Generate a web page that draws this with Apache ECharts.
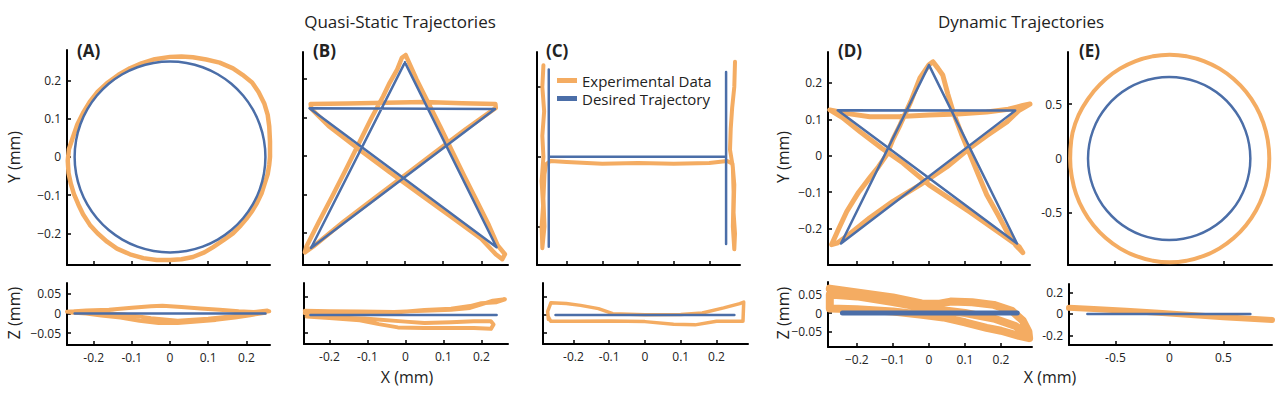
<!DOCTYPE html>
<html lang="en">
<head>
<meta charset="UTF-8">
<title>Quasi-Static and Dynamic Trajectories</title>
<script src="https://cdn.jsdelivr.net/npm/echarts@6.0.0/dist/echarts.min.js"></script>
<style>
  html, body { margin: 0; padding: 0; background: #fff; }
  #chart { width: 1280px; height: 396px; }
</style>
</head>
<body>
<div id="chart"></div>
<script>
// ---- data (mm) ----
var desiredCircleA = [[0.25,0],[0.2462,0.0434],[0.2349,0.0855],[0.2165,0.125],[0.1915,0.1607],[0.1607,0.1915],[0.125,0.2165],[0.0855,0.2349],[0.0434,0.2462],[0,0.25],[-0.0434,0.2462],[-0.0855,0.2349],[-0.125,0.2165],[-0.1607,0.1915],[-0.1915,0.1607],[-0.2165,0.125],[-0.2349,0.0855],[-0.2462,0.0434],[-0.25,0],[-0.2462,-0.0434],[-0.2349,-0.0855],[-0.2165,-0.125],[-0.1915,-0.1607],[-0.1607,-0.1915],[-0.125,-0.2165],[-0.0855,-0.2349],[-0.0434,-0.2462],[0,-0.25],[0.0434,-0.2462],[0.0855,-0.2349],[0.125,-0.2165],[0.1607,-0.1915],[0.1915,-0.1607],[0.2165,-0.125],[0.2349,-0.0855],[0.2462,-0.0434],[0.25,0]];
var expCircleA = [[0.262,0.0],[0.262,0.04],[0.26,0.08],[0.256,0.11],[0.247,0.14],[0.232,0.17],[0.215,0.195],[0.19,0.215],[0.165,0.232],[0.13,0.247],[0.095,0.255],[0.06,0.261],[0.03,0.263],[0.0,0.262],[-0.04,0.256],[-0.075,0.245],[-0.105,0.232],[-0.135,0.215],[-0.163,0.195],[-0.19,0.17],[-0.21,0.145],[-0.228,0.115],[-0.243,0.085],[-0.255,0.05],[-0.265,0.02],[-0.268,-0.01],[-0.266,-0.042],[-0.26,-0.07],[-0.252,-0.097],[-0.24,-0.125],[-0.228,-0.15],[-0.21,-0.178],[-0.19,-0.2],[-0.165,-0.222],[-0.139,-0.24],[-0.105,-0.255],[-0.07,-0.265],[-0.035,-0.27],[0.0,-0.27],[0.03,-0.268],[0.06,-0.262],[0.09,-0.25],[0.113,-0.236],[0.14,-0.218],[0.165,-0.2],[0.185,-0.18],[0.2,-0.162],[0.215,-0.142],[0.228,-0.12],[0.24,-0.095],[0.248,-0.07],[0.256,-0.045],[0.26,-0.02],[0.262,0.0]];
var desiredZA = [[-0.25,0],[0.25,0]];
var expZA = [[-0.27,0.005],[-0.22,0.008],[-0.16,0.01],[-0.1,0.015],[-0.05,0.019],[-0.02,0.02],[0.03,0.017],[0.08,0.013],[0.13,0.01],[0.18,0.006],[0.22,0.004],[0.255,0.008],[0.25,0.002],[0.21,-0.004],[0.17,-0.01],[0.12,-0.016],[0.07,-0.02],[0.02,-0.024],[-0.03,-0.024],[-0.08,-0.018],[-0.13,-0.01],[-0.18,-0.005],[-0.22,0.0],[-0.26,0.003],[-0.25,0.006],[-0.2,0.003],[-0.12,-0.002],[-0.05,-0.012],[0.02,-0.018],[0.1,-0.013],[0.17,-0.006],[0.22,0.0],[0.26,0.006]];

var desiredStarB = [[0,0.243],[0.24,-0.237],[-0.25,0.124],[0.236,0.122],[-0.246,-0.239],[0,0.243]];
var expStarB = [[0.002,0.262],[0.03,0.2],[0.06,0.14],[0.093,0.075],[0.125,0.01],[0.157,-0.055],[0.19,-0.12],[0.22,-0.18],[0.243,-0.232],[0.262,-0.255],[0.255,-0.268],[0.238,-0.255],[0.2,-0.215],[0.12,-0.157],[0.04,-0.1],[-0.04,-0.042],[-0.12,0.017],[-0.2,0.078],[-0.245,0.122],[-0.247,0.135],[-0.15,0.136],[-0.05,0.138],[0.05,0.14],[0.15,0.137],[0.237,0.135],[0.238,0.125],[0.16,0.07],[0.08,0.01],[0.0,-0.05],[-0.08,-0.11],[-0.16,-0.17],[-0.24,-0.235],[-0.262,-0.25],[-0.258,-0.235],[-0.225,-0.17],[-0.188,-0.1],[-0.152,-0.03],[-0.117,0.04],[-0.087,0.1],[-0.057,0.155],[-0.04,0.19],[-0.02,0.225],[-0.008,0.255],[0.002,0.262]];
var desiredZB = [[-0.25,0],[0.24,0]];
var expZB = [[-0.265,0.012],[-0.2,0.011],[-0.12,0.01],[-0.03,0.009],[0.05,0.012],[0.12,0.015],[0.17,0.02],[0.2,0.03],[0.23,0.04],[0.262,0.044],[0.24,0.036],[0.2,0.033],[0.17,0.025],[0.12,0.018],[0.05,0.014],[-0.05,0.005],[-0.15,0.002],[-0.24,0.0],[-0.26,-0.004],[-0.2,-0.008],[-0.12,-0.014],[-0.07,-0.025],[-0.02,-0.034],[0.05,-0.036],[0.12,-0.036],[0.18,-0.036],[0.225,-0.038],[0.232,-0.026],[0.225,-0.017],[0.18,-0.017],[0.12,-0.02],[0.05,-0.022],[0.0,-0.018],[-0.1,-0.01],[-0.2,-0.002],[-0.265,0.005]];

var desiredLinesC = [[-0.25,0.25],[-0.25,-0.258],[-0.25,0],[0.247,0],[0.247,0.243],[0.247,-0.25]];
var expLinesC = [[-0.265,0.262],[-0.268,0.2],[-0.263,0.13],[-0.268,0.06],[-0.265,0.0],[-0.27,-0.07],[-0.266,-0.14],[-0.27,-0.2],[-0.268,-0.262],[-0.262,-0.2],[-0.265,-0.12],[-0.262,-0.05],[-0.258,-0.022],[-0.245,-0.012],[-0.2,-0.015],[-0.1,-0.02],[0.0,-0.018],[0.1,-0.02],[0.2,-0.018],[0.25,-0.012],[0.265,-0.02],[0.27,-0.08],[0.268,-0.16],[0.272,-0.22],[0.27,-0.265],[0.266,-0.2],[0.268,-0.1],[0.266,-0.03],[0.258,0.02],[0.26,0.08],[0.264,0.14],[0.27,0.2],[0.272,0.272]];
var desiredZC = [[-0.25,0],[0.25,0]];
var expZC = [[-0.27,-0.012],[-0.272,0.01],[-0.263,0.034],[-0.22,0.032],[-0.18,0.027],[-0.13,0.018],[-0.09,0.004],[0.0,0.001],[0.1,0.002],[0.16,0.006],[0.22,0.02],[0.265,0.032],[0.276,0.036],[0.274,-0.017],[0.2,-0.017],[0.14,-0.027],[0.08,-0.025],[0.0,-0.018],[-0.1,-0.016],[-0.2,-0.017],[-0.263,-0.017],[-0.27,-0.005]];

var desiredStarD = [[0,0.249],[0.244,-0.241],[-0.253,0.125],[0.239,0.124],[-0.244,-0.241],[0,0.249]];
var expStarD = [[0.011,0.258],[0.025,0.24],[0.038,0.222],[0.052,0.17],[0.067,0.12],[0.09,0.06],[0.114,0.003],[0.138,-0.055],[0.16,-0.107],[0.19,-0.16],[0.216,-0.208],[0.24,-0.245],[0.26,-0.266],[0.25,-0.25],[0.2,-0.215],[0.114,-0.155],[0.0,-0.08],[-0.072,-0.02],[-0.13,0.02],[-0.19,0.065],[-0.24,0.105],[-0.275,0.126],[-0.22,0.115],[-0.164,0.107],[-0.08,0.108],[0.0,0.112],[0.08,0.115],[0.16,0.12],[0.22,0.128],[0.26,0.138],[0.28,0.142],[0.25,0.125],[0.216,0.093],[0.16,0.055],[0.114,0.022],[0.05,-0.03],[-0.025,-0.08],[-0.1,-0.125],[-0.164,-0.17],[-0.22,-0.215],[-0.255,-0.24],[-0.27,-0.244],[-0.25,-0.2],[-0.228,-0.153],[-0.195,-0.1],[-0.164,-0.06],[-0.14,-0.03],[-0.117,0.003],[-0.1,0.045],[-0.08,0.085],[-0.05,0.15],[-0.025,0.214],[0.0,0.25],[0.011,0.258]];
var desiredZD = [[-0.24,0],[0.245,0]];
var expZD = [[-0.275,0.066],[-0.2,0.056],[-0.1,0.042],[-0.02,0.026],[0.03,0.025],[0.06,0.031],[0.12,0.029],[0.18,0.022],[0.23,0.006],[0.26,-0.02],[0.276,-0.05],[0.278,-0.068],[0.25,-0.062],[0.2,-0.048],[0.16,-0.04],[0.1,-0.025],[0.04,-0.012],[-0.025,-0.004],[-0.1,0.004],[-0.2,0.01],[-0.275,0.012],[-0.275,0.05],[-0.2,0.045],[-0.1,0.03],[0.0,0.012],[0.1,0.0],[0.18,-0.015],[0.24,-0.035],[0.275,-0.058]];

var desiredCircleE = [[0.75,0],[0.7386,0.1302],[0.7048,0.2565],[0.6495,0.375],[0.5745,0.4821],[0.4821,0.5745],[0.375,0.6495],[0.2565,0.7048],[0.1302,0.7386],[0,0.75],[-0.1302,0.7386],[-0.2565,0.7048],[-0.375,0.6495],[-0.4821,0.5745],[-0.5745,0.4821],[-0.6495,0.375],[-0.7048,0.2565],[-0.7386,0.1302],[-0.75,0],[-0.7386,-0.1302],[-0.7048,-0.2565],[-0.6495,-0.375],[-0.5745,-0.4821],[-0.4821,-0.5745],[-0.375,-0.6495],[-0.2565,-0.7048],[-0.1302,-0.7386],[0,-0.75],[0.1302,-0.7386],[0.2565,-0.7048],[0.375,-0.6495],[0.4821,-0.5745],[0.5745,-0.4821],[0.6495,-0.375],[0.7048,-0.2565],[0.7386,-0.1302],[0.75,0]];
var expCircleE = [[0.925,0],[0.911,0.166],[0.87,0.327],[0.802,0.478],[0.71,0.614],[0.596,0.732],[0.465,0.827],[0.32,0.897],[0.165,0.94],[0.005,0.955],[-0.155,0.94],[-0.31,0.897],[-0.455,0.827],[-0.586,0.732],[-0.7,0.614],[-0.795,0.478],[-0.865,0.33],[-0.905,0.168],[-0.915,0],[-0.9,-0.166],[-0.86,-0.327],[-0.792,-0.478],[-0.7,-0.614],[-0.586,-0.732],[-0.455,-0.827],[-0.31,-0.897],[-0.155,-0.94],[0.005,-0.955],[0.165,-0.94],[0.32,-0.897],[0.465,-0.827],[0.596,-0.732],[0.71,-0.614],[0.802,-0.478],[0.87,-0.327],[0.911,-0.166],[0.925,0]];
var desiredZE = [[-0.76,0],[0.75,0]];
var expZE = [[-0.93,0.057],[-0.7,0.046],[-0.4,0.03],[-0.1,0.012],[0.2,-0.01],[0.5,-0.03],[0.75,-0.045],[0.95,-0.056]];

// ---- ticks and tick labels ----
var ticksXY = [-0.2, -0.1, 0, 0.1, 0.2];
var labelsMinusXY = ['\u22120.2', '\u22120.1', '0', '0.1', '0.2'];
var labelsHyphenXY = ['-0.2', '-0.1', '0', '0.1', '0.2'];
var ticksZ = [-0.05, 0, 0.05];
var labelsZ = ['\u22120.05', '0', '0.05'];
var ticksC = [-0.2, 0, 0.2];
var ticksE = [-0.5, 0, 0.5];
var labelsE = ['-0.5', '0', '0.5'];
var ticksZE = [-0.2, 0, 0.2];
var labelsZE = ['-0.2', '0', '0.2'];

var ORANGE = '#F4AC62';
var BLUE = '#4B6EA8';
var FONT = '"Open Sans", "Noto Sans", sans-serif';

var grids = [
  { left: 67, top: 50, width: 203, height: 215 },
  { left: 303, top: 52, width: 205, height: 213 },
  { left: 537, top: 52, width: 203, height: 213 },
  { left: 828, top: 52, width: 202, height: 213 },
  { left: 1068, top: 52, width: 204, height: 213 },
  { left: 67, top: 283, width: 203, height: 62 },
  { left: 304, top: 283, width: 204, height: 61 },
  { left: 543, top: 283, width: 205, height: 61 },
  { left: 828, top: 282, width: 204, height: 65 },
  { left: 1069, top: 284, width: 203, height: 61 }
];

function axis(grid, min, max, ticks, labels) {
  return {
    type: 'value', gridIndex: grid, min: min, max: max,
    axisLine: { show: true, onZero: false, lineStyle: { color: '#000', width: 2 } },
    axisTick: { show: true, inside: true, length: 4, customValues: ticks, lineStyle: { color: '#000', width: 1.5 } },
    axisLabel: {
      show: !!labels, customValues: ticks, margin: 6, fontSize: 12, color: '#222', fontFamily: FONT,
      formatter: function (v) {
        if (!labels) return '';
        for (var i = 0; i < ticks.length; i++) {
          if (Math.abs(ticks[i] - v) < 1e-9) return labels[i];
        }
        return '';
      }
    },
    splitLine: { show: false }
  };
}

var xAxes = [
  axis(0, -0.27, 0.262, ticksXY, null),
  axis(1, -0.267, 0.27, ticksXY, null),
  axis(2, -0.283, 0.286, ticksXY, null),
  axis(3, -0.28, 0.28, ticksXY, null),
  axis(4, -0.935, 0.95, ticksE, null),
  axis(5, -0.27, 0.262, ticksXY, labelsHyphenXY),
  axis(6, -0.267, 0.27, ticksXY, labelsHyphenXY),
  axis(7, -0.285, 0.288, ticksXY, labelsHyphenXY),
  axis(8, -0.28, 0.286, ticksXY, labelsMinusXY),
  axis(9, -0.93, 0.95, ticksE, labelsE)
];
var yAxes = [
  axis(0, -0.283, 0.28, ticksXY, labelsMinusXY),
  axis(1, -0.283, 0.27, ticksXY, null),
  axis(2, -0.31, 0.3, ticksC, null),
  axis(3, -0.3, 0.285, ticksXY, labelsMinusXY),
  axis(4, -0.98, 0.98, ticksE, labelsE),
  axis(5, -0.08, 0.078, ticksZ, labelsZ),
  axis(6, -0.08, 0.089, ticksZ, null),
  axis(7, -0.08, 0.089, ticksZ, null),
  axis(8, -0.092, 0.084, ticksZ, labelsZ),
  axis(9, -0.29, 0.28, ticksZE, labelsZE)
];

function line(name, idx, data, color, width, smooth) {
  return {
    name: name, type: 'line', xAxisIndex: idx, yAxisIndex: idx, data: data,
    symbol: 'none', smooth: !!smooth, silent: true,
    lineStyle: { color: color, width: width, cap: 'round', join: 'round' },
    itemStyle: { color: color }
  };
}
var EXP = 'Experimental Data', DES = 'Desired Trajectory';
var series = [
  line(EXP, 0, expCircleA, ORANGE, 4.5), line(DES, 0, desiredCircleA, BLUE, 2.5, true),
  line(EXP, 1, expStarB, ORANGE, 4.5), line(DES, 1, desiredStarB, BLUE, 2.5),
  line(EXP, 2, expLinesC, ORANGE, 4), line(DES, 2, desiredLinesC, BLUE, 2.5),
  line(EXP, 3, expStarD, ORANGE, 5), line(DES, 3, desiredStarD, BLUE, 2.5),
  line(EXP, 4, expCircleE, ORANGE, 4, true), line(DES, 4, desiredCircleE, BLUE, 2.5, true),
  line(EXP, 5, expZA, ORANGE, 4), line(DES, 5, desiredZA, BLUE, 2.5),
  line(EXP, 6, expZB, ORANGE, 4), line(DES, 6, desiredZB, BLUE, 2.5),
  line(EXP, 7, expZC, ORANGE, 3.5), line(DES, 7, desiredZC, BLUE, 2.5),
  line(EXP, 8, expZD, ORANGE, 8), line(DES, 8, desiredZD, BLUE, 5),
  line(EXP, 9, expZE, ORANGE, 6), line(DES, 9, desiredZE, BLUE, 2.5)
];

function txt(x, y, text, size, opts) {
  opts = opts || {};
  return {
    type: 'text', x: x, y: y, rotation: opts.rotation || 0, silent: true,
    style: {
      text: text, fill: '#222', font: (opts.bold ? 'bold ' : '') + size + 'px ' + FONT,
      textAlign: opts.align || 'center', textVerticalAlign: 'middle'
    }
  };
}

var chart = echarts.init(document.getElementById('chart'), null, { renderer: 'svg' });
chart.setOption({
  animation: false,
  backgroundColor: '#fff',
  grid: grids,
  xAxis: xAxes,
  yAxis: yAxes,
  series: series,
  legend: {
    data: [EXP, DES], orient: 'vertical', left: 557, top: 72, padding: 0, itemGap: 1,
    icon: 'rect', itemWidth: 20, itemHeight: 5,
    textStyle: { fontSize: 15, color: '#222', fontFamily: FONT, lineHeight: 17 }
  },
  graphic: [
    txt(400, 21, 'Quasi-Static Trajectories', 17),
    txt(1021, 21, 'Dynamic Trajectories', 17),
    txt(77, 50, '(A)', 17, { bold: true, align: 'left' }),
    txt(313, 50, '(B)', 17, { bold: true, align: 'left' }),
    txt(546, 50, '(C)', 17, { bold: true, align: 'left' }),
    txt(838, 50, '(D)', 17, { bold: true, align: 'left' }),
    txt(1079, 50, '(E)', 17, { bold: true, align: 'left' }),
    txt(14, 157, 'Y (mm)', 16, { rotation: Math.PI / 2 }),
    txt(14, 313, 'Z (mm)', 16, { rotation: Math.PI / 2 }),
    txt(783, 157, 'Y (mm)', 16, { rotation: Math.PI / 2 }),
    txt(783, 313, 'Z (mm)', 16, { rotation: Math.PI / 2 }),
    txt(407, 377, 'X (mm)', 16),
    txt(1050, 377, 'X (mm)', 16)
  ]
});
</script>
</body>
</html>
